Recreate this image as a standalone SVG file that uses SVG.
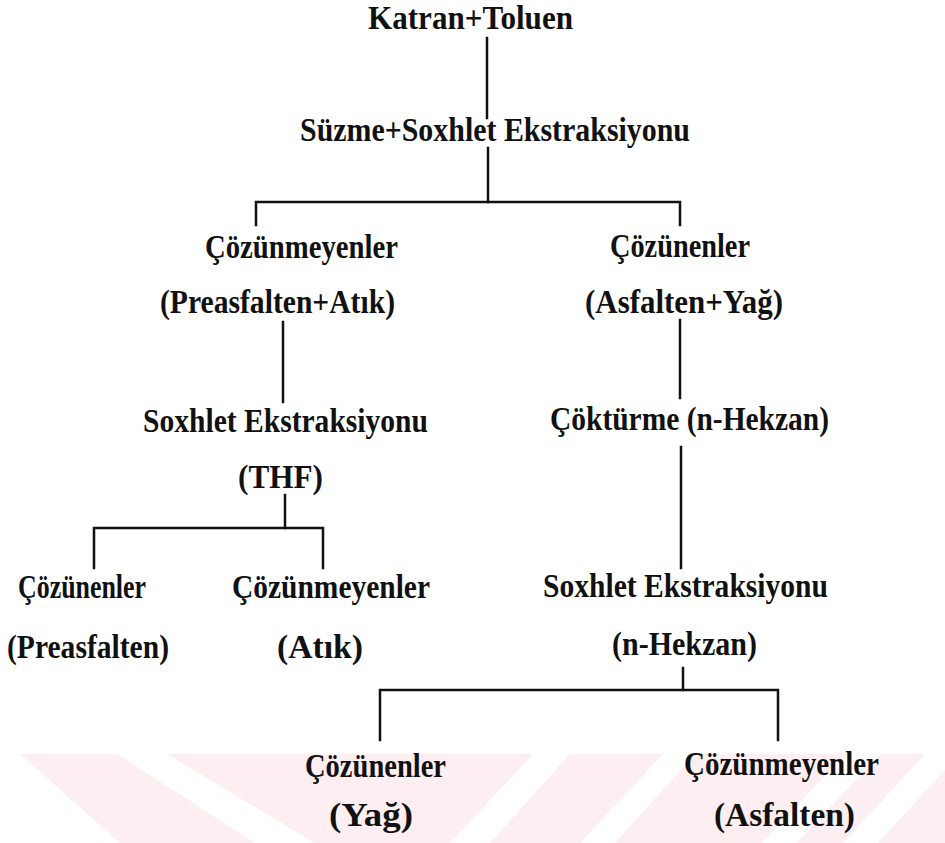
<svg xmlns="http://www.w3.org/2000/svg" width="945" height="843" viewBox="0 0 945 843">
<style>
.lbl{font-family:"Liberation Serif","Times New Roman",serif;font-weight:bold;font-size:34px;fill:#111}
.wire{fill:none;stroke:#111;stroke-width:2.5;stroke-linecap:square}
.wm{fill:#fdeef1;stroke:none}
</style>
<rect width="945" height="843" fill="#ffffff"/>
<g id="watermark">
<polygon class="wm" points="20,754 117,754 255,843 120,843"/>
<polygon class="wm" points="167,754 533,754 450,843 315,843"/>
<polygon class="wm" points="570,754 663,754 580,843 490,843"/>
<polygon class="wm" points="695,754 845,754 762,843 615,843"/>
<polygon class="wm" points="880,754 925,754 843,843 797,843"/>
<polygon class="wm" points="945,770 945,843 878,843"/>
</g>
<g id="connectors">
<path class="wire" d="M487 38 V118"/>
<path class="wire" d="M488 148 V202"/>
<path class="wire" d="M256 225 V202 H680 V225"/>
<path class="wire" d="M283 322 V402"/>
<path class="wire" d="M680 320 V398"/>
<path class="wire" d="M285 495 V528"/>
<path class="wire" d="M94 568 V528 H323 V568"/>
<path class="wire" d="M681 447 V568"/>
<path class="wire" d="M683 668 V690"/>
<path class="wire" d="M380 740 V690 H778 V740"/>
</g>
<g id="n-katran"><text class="lbl" x="368" y="29" textLength="205" lengthAdjust="spacingAndGlyphs">Katran+Toluen</text></g>
<g id="n-suzme"><text class="lbl" x="300" y="141" textLength="390" lengthAdjust="spacingAndGlyphs">Süzme+Soxhlet Ekstraksiyonu</text></g>
<g id="n-cozunmeyen1">
<text class="lbl" x="205" y="258" textLength="193" lengthAdjust="spacingAndGlyphs">Çözünmeyenler</text>
<text class="lbl" x="160" y="313" textLength="235" lengthAdjust="spacingAndGlyphs">(Preasfalten+Atık)</text>
</g>
<g id="n-cozunen1">
<text class="lbl" x="610" y="257" textLength="140" lengthAdjust="spacingAndGlyphs">Çözünenler</text>
<text class="lbl" x="585" y="313" textLength="198" lengthAdjust="spacingAndGlyphs">(Asfalten+Yağ)</text>
</g>
<g id="n-soxhlet-thf">
<text class="lbl" x="143" y="432" textLength="285" lengthAdjust="spacingAndGlyphs">Soxhlet Ekstraksiyonu</text>
<text class="lbl" x="238" y="488" textLength="85" lengthAdjust="spacingAndGlyphs">(THF)</text>
</g>
<g id="n-cokturme"><text class="lbl" x="550" y="430" textLength="279" lengthAdjust="spacingAndGlyphs">Çöktürme (n-Hekzan)</text></g>
<g id="n-preasfalten">
<text class="lbl" x="18" y="598" textLength="128" lengthAdjust="spacingAndGlyphs">Çözünenler</text>
<text class="lbl" x="7" y="658" textLength="162" lengthAdjust="spacingAndGlyphs">(Preasfalten)</text>
</g>
<g id="n-atik">
<text class="lbl" x="232" y="598" textLength="198" lengthAdjust="spacingAndGlyphs">Çözünmeyenler</text>
<text class="lbl" x="277" y="658" textLength="86" lengthAdjust="spacingAndGlyphs">(Atık)</text>
</g>
<g id="n-soxhlet-hekzan">
<text class="lbl" x="543" y="597" textLength="285" lengthAdjust="spacingAndGlyphs">Soxhlet Ekstraksiyonu</text>
<text class="lbl" x="612" y="655" textLength="145" lengthAdjust="spacingAndGlyphs">(n-Hekzan)</text>
</g>
<g id="n-yag">
<text class="lbl" x="305" y="777" textLength="141" lengthAdjust="spacingAndGlyphs">Çözünenler</text>
<text class="lbl" x="329" y="826" textLength="84" lengthAdjust="spacingAndGlyphs">(Yağ)</text>
</g>
<g id="n-asfalten">
<text class="lbl" x="684" y="775" textLength="195" lengthAdjust="spacingAndGlyphs">Çözünmeyenler</text>
<text class="lbl" x="714" y="826" textLength="141" lengthAdjust="spacingAndGlyphs">(Asfalten)</text>
</g>
</svg>
